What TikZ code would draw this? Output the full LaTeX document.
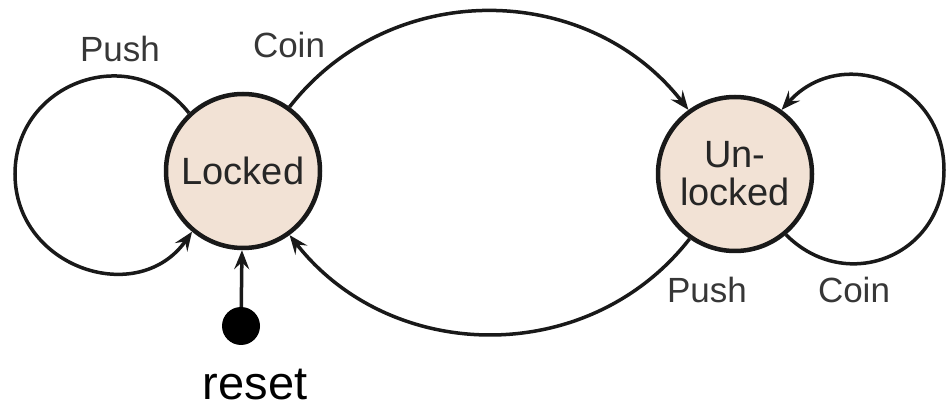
\documentclass[tikz,border=0pt]{standalone}
\usepackage{fontspec}
\setmainfont{Liberation Sans}
\usetikzlibrary{arrows.meta}
\definecolor{statefill}{RGB}{242,226,213}
\definecolor{labelgray}{RGB}{55,55,55}

\begin{document}
\begin{tikzpicture}[x=1pt, y=1pt,
  state/.style={circle, draw=black!90, line width=4.5pt, fill=statefill, minimum size=154pt, inner sep=0pt,
    align=center, font=\fontsize{38}{38}\selectfont, text=black!85},
  trans/.style={line width=3.5pt, draw=black!90, -{Stealth[length=19pt,width=15pt,inset=7pt]}},
  lbl/.style={font=\fontsize{35}{35}\selectfont, text=labelgray, anchor=base}]
  \useasboundingbox (0,0) rectangle (946,410);

  \node[state] (locked) at (243,239) {Locked};
  \node[state] (unlocked) at (735,236) {Un-\\locked};
  \node[circle, fill=black, minimum size=38pt, inner sep=0pt] (reset) at (241,84) {};
  \node[font=\fontsize{47}{47}\selectfont, anchor=base] (resetlbl) at (255,10) {reset};

  % turning points of the two self loops
  \coordinate (pushl) at (15,236);
  \coordinate (coinr) at (944,240);

  \draw[trans] (reset) -- (locked);
  \draw[trans] (locked.54) .. controls +(52:164) and +(128:164) .. (unlocked.126);
  \draw[trans] (unlocked.235) .. controls +(232:164) and +(308:164) .. (locked.306);
  \draw[trans] (locked.133) to[out=128, in=90, looseness=1.28] (pushl)
    to[out=270, in=235, looseness=1.29] (locked.230);
  \draw[trans] (unlocked.310) to[out=-45, in=270, looseness=1.28] (coinr)
    to[out=90, in=48, looseness=1.31] (unlocked.54);

  \node[lbl] (pushlbl) at (120,348) {Push};
  \node[lbl] (coinlbl) at (289,352) {Coin};
  \node[lbl] (pushlbl2) at (707,107) {Push};
  \node[lbl] (coinlbl2) at (854,107) {Coin};
\end{tikzpicture}
\end{document}
